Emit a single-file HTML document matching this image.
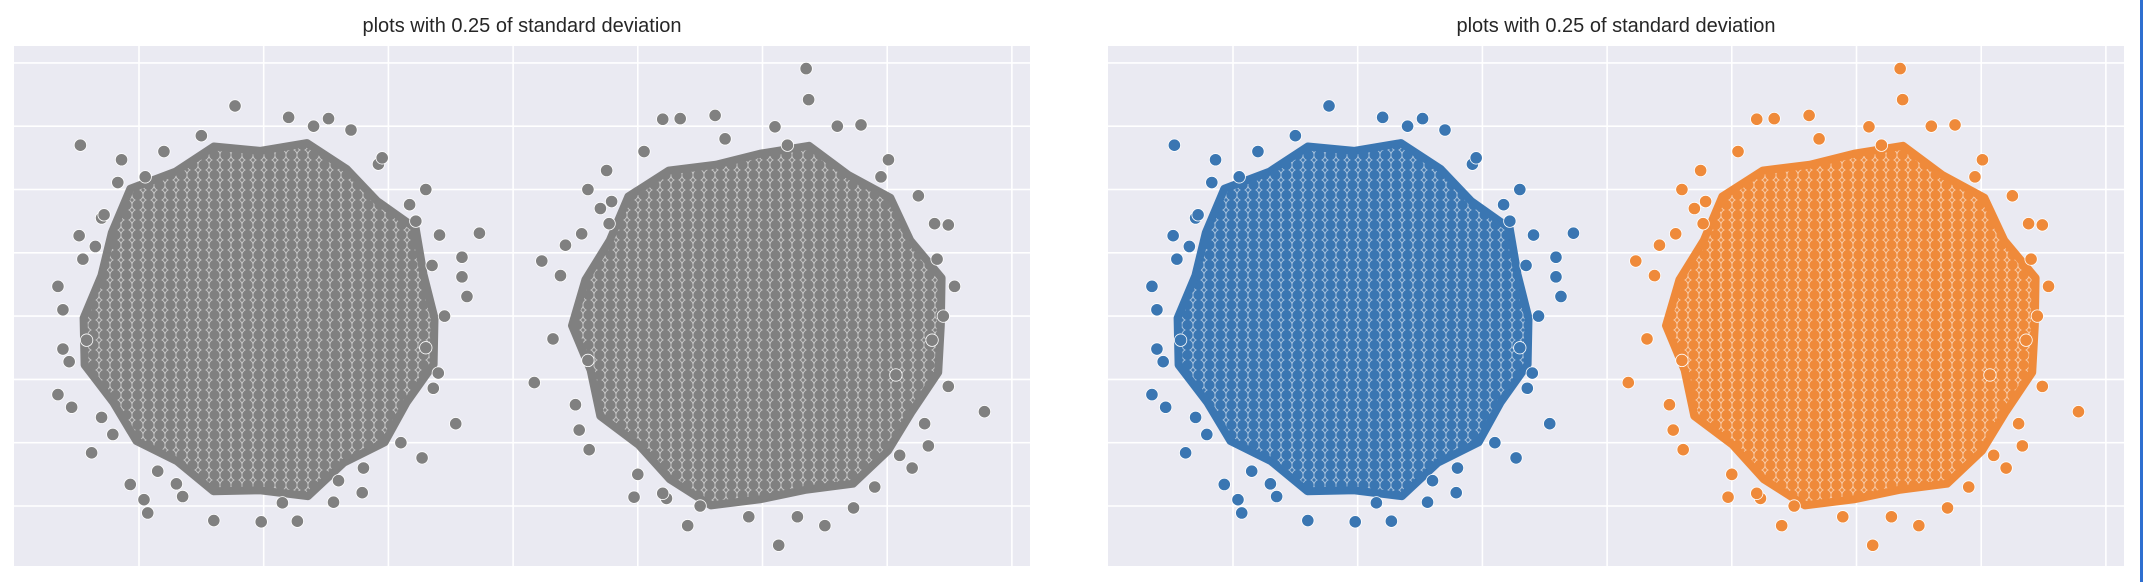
<!DOCTYPE html>
<html><head><meta charset="utf-8"><style>
html,body{margin:0;padding:0;background:#fff;width:2144px;height:582px;overflow:hidden}
svg{display:block}
</style></head><body>
<svg id="chart" width="2144" height="582" xmlns="http://www.w3.org/2000/svg">
<defs>
<pattern id="pg" width="11" height="10" patternUnits="userSpaceOnUse"><rect width="11" height="10" fill="#a6a6a6"/><g fill="#808080" stroke="#fff" stroke-opacity="0.6" stroke-width="0.8"><circle cx="0" cy="0" r="5.6"/><circle cx="11" cy="0" r="5.6"/><circle cx="0" cy="10" r="5.6"/><circle cx="11" cy="10" r="5.6"/><circle cx="5.5" cy="5" r="5.6"/></g></pattern>
<pattern id="pb" width="11" height="10" patternUnits="userSpaceOnUse"><rect width="11" height="10" fill="#8fb3d6"/><g fill="#3a76b2" stroke="#fff" stroke-opacity="0.6" stroke-width="0.8"><circle cx="0" cy="0" r="5.6"/><circle cx="11" cy="0" r="5.6"/><circle cx="0" cy="10" r="5.6"/><circle cx="11" cy="10" r="5.6"/><circle cx="5.5" cy="5" r="5.6"/></g></pattern>
<pattern id="po" width="11" height="10" patternUnits="userSpaceOnUse"><rect width="11" height="10" fill="#f4b887"/><g fill="#ef8a3a" stroke="#fff" stroke-opacity="0.6" stroke-width="0.8"><circle cx="0" cy="0" r="5.6"/><circle cx="11" cy="0" r="5.6"/><circle cx="0" cy="10" r="5.6"/><circle cx="11" cy="10" r="5.6"/><circle cx="5.5" cy="5" r="5.6"/></g></pattern>
</defs>
<rect x="2140" y="0" width="3" height="582" fill="#2f6fd0"/>
</svg>
<script>
// ---- data ----
const cluster1X = [0.77,-0.47,1.20,1.52,1.70,-0.14,-0.17,2.30,2.17,2.73,-0.48,2.59,2.59,2.63,-0.65,-0.61,-0.61,-0.56,-0.65,-0.54,2.54,-0.38,2.27,0.04,0.07,0.60,0.98,1.27,1.56,1.79,-0.07,2.41,2.36,-0.21,-0.42,1.92,1.15,0.35,2.45,-0.30,
  0.05,-0.28,-0.35,2.22,2.35,2.40,0.15,1.80,1.95,0.50,1.40,-0.30,2.10,0.30,1.60,-0.45,2.30,0.20];
const cluster1Y = [6.32,5.70,6.14,6.12,5.94,5.47,5.11,5.00,4.76,4.31,4.27,3.93,3.62,3.31,3.47,3.10,2.48,2.28,1.76,1.56,1.30,0.84,0.76,0.10,-0.11,-0.23,-0.25,-0.24,0.06,0.21,0.34,4.28,1.86,1.13,2.62,5.40,0.05,0.15,3.00,4.55,
  5.20,4.60,4.10,4.50,3.80,2.10,0.55,0.60,5.50,5.85,6.00,1.40,1.00,0.35,0.40,3.90,2.50,5.60];
const cluster2X = [5.35,5.37,4.20,4.34,4.62,5.10,5.79,6.01,6.49,6.54,3.23,3.42,3.38,3.32,3.17,3.53,3.61,3.97,4.23,4.40,5.13,5.50,5.73,6.33,6.78,6.49,6.07,6.36,6.38,3.79,3.77,4.89,5.28,5.95,4.05,6.20,3.60,4.50,
  3.75,3.55,3.50,6.25,6.40,6.30,4.00,5.90,4.70,5.60,3.60,6.45,4.20,5.20,6.10,3.70];
const cluster2Y = [6.91,6.42,6.11,6.12,6.17,5.99,6.02,5.47,4.44,3.47,3.87,4.12,3.64,2.64,1.95,1.20,0.89,0.14,0.12,-0.31,-0.62,-0.31,-0.03,0.95,1.49,1.89,2.07,2.62,4.46,4.81,4.46,-0.17,-0.17,5.20,5.60,0.60,5.00,0.00,
  5.30,4.30,1.60,4.90,3.90,1.30,0.50,0.30,5.80,6.00,2.30,3.00,0.20,5.70,0.80,4.70];
const coreCenterX = [0.97, 4.98];
const coreCenterY = [2.97, 2.85];
const coreRadiusX = [1.40, 1.45];
const coreRadiusY = [2.75, 2.80];
const coreShape1 = [1.00,0.97,1.03,0.95,0.99,1.04,0.96,1.02,0.97,1.05,0.98,0.94,1.01,1.04,0.97,1.00,0.95,1.03,0.99,1.06,0.96,1.01,0.97,1.03];
const coreShape2 = [1.00,1.04,0.96,1.02,0.98,1.05,0.97,0.94,1.01,1.03,0.96,1.00,1.04,0.97,1.02,0.95,1.00,1.05,0.98,0.96,1.03,1.00,0.97,1.02];
const panelOffsets = [0, 1094];
const titles = ["plots with 0.25 of standard deviation","plots with 0.25 of standard deviation"];
const xGridTicks = [0,1,2,3,4,5,6,7];
const yGridTicks = [0,1,2,3,4,5,6,7];

const NS = "http://www.w3.org/2000/svg";
const svg = document.getElementById('chart');
function mk(tag, attrs, parent){const e=document.createElementNS(NS,tag);for(const k in attrs)e.setAttribute(k,attrs[k]);(parent||svg).appendChild(e);return e;}
const AX_L=14, AX_R=1030, AX_T=46, AX_B=566;
function xs(v){return 139 + v*124.7;}
function ys(v){return 506 - v*63.3;}

panelOffsets.forEach((off, p) => {
  const g = mk('g', {transform:`translate(${off},0)`});
  
  
  const t = mk('text', {x:(AX_L+AX_R)/2, y:32, 'text-anchor':'middle', 'font-family':'"Liberation Sans", sans-serif', 'font-size':'20', fill:'#262626'}, g);
  t.textContent = titles[p];
  
  
  const bg = mk('rect', {x:AX_L, y:AX_T, width:AX_R-AX_L, height:AX_B-AX_T, fill:'#eaeaf2'}, g);
  
  
  xGridTicks.forEach(v => {
    const l = mk('line', {x1:xs(v), x2:xs(v), y1:AX_T, y2:AX_B, stroke:'#fff', 'stroke-width':1.6}, g);
    
    
  });
  yGridTicks.forEach(v => {
    const l = mk('line', {x1:AX_L, x2:AX_R, y1:ys(v), y2:ys(v), stroke:'#fff', 'stroke-width':1.6}, g);
    
    
  });
  const cols = p===0 ? [['#808080','url(#pg)'],['#808080','url(#pg)']] : [['#3a76b2','url(#pb)'],['#ef8a3a','url(#po)']];
  [[cluster1X,cluster1Y,coreShape1],[cluster2X,cluster2Y,coreShape2]].forEach((c, ci) => {
    const [X,Y,shape] = c;
    const cg = mk('g', {}, g);
    
    
    const n = shape.length;
    let pts = [];
    for (let i=0;i<n;i++){
      const a = i/n*2*Math.PI;
      const vx = coreCenterX[ci] + coreRadiusX[ci]*shape[i]*Math.cos(a);
      const vy = coreCenterY[ci] + coreRadiusY[ci]*shape[i]*Math.sin(a);
      pts.push(xs(vx).toFixed(1)+','+ys(vy).toFixed(1));
    }
    const core = mk('polygon', {points:pts.join(' '), fill:cols[ci][1], stroke:cols[ci][0], 'stroke-width':8, 'stroke-linejoin':'round'}, cg);
    
    
    X.forEach((xv, i) => {
      const d = mk('circle', {cx:xs(xv), cy:ys(Y[i]), r:6.2, fill:cols[ci][0], stroke:'#fff', 'stroke-width':0.8}, cg);
      
      
    });
  });
});
</script>
</body></html>
